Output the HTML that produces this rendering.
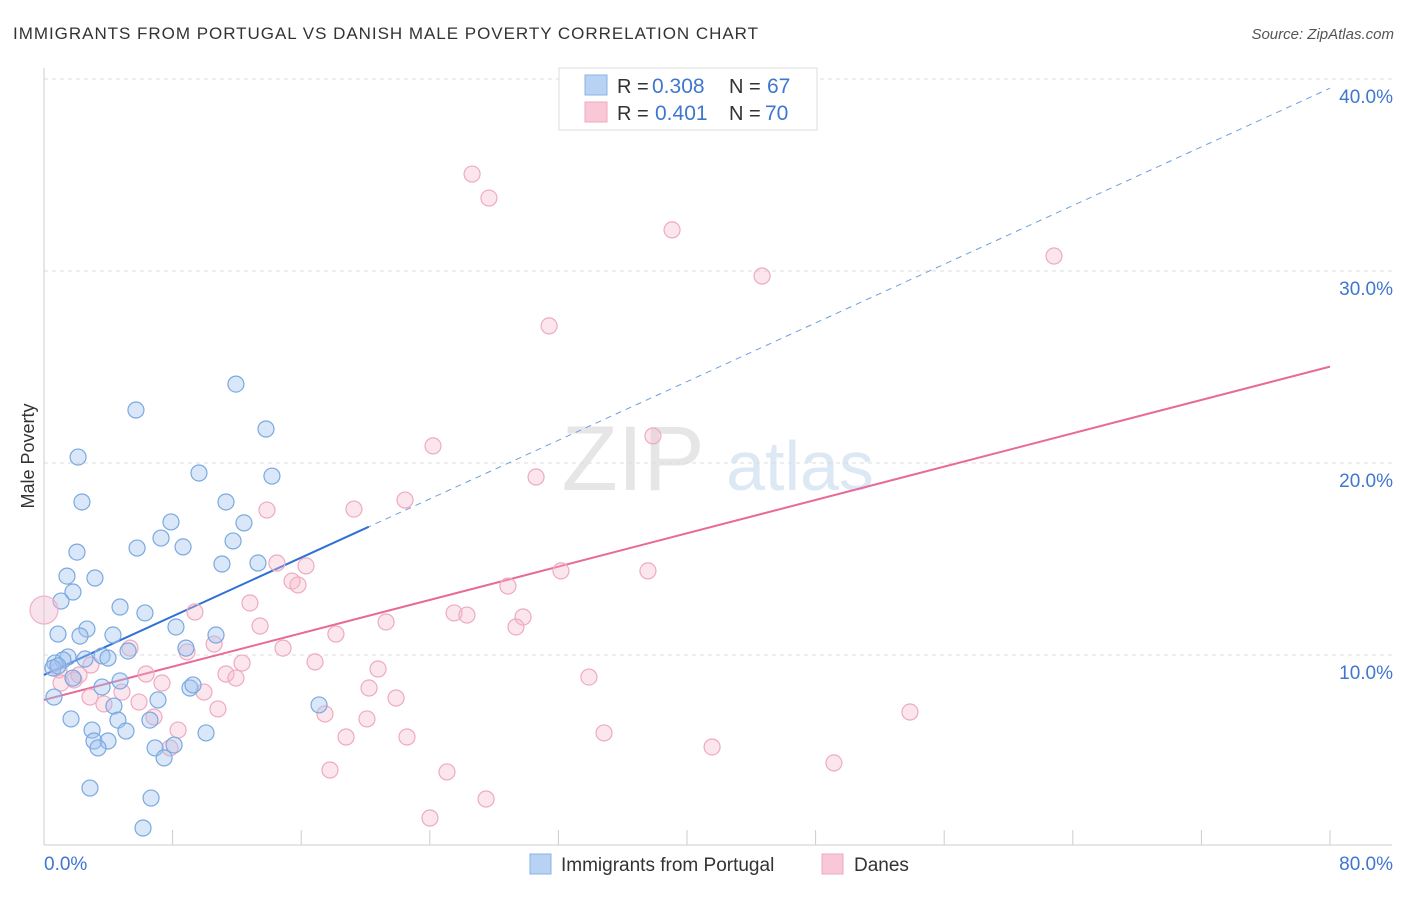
<!DOCTYPE html>
<html><head><meta charset="utf-8"><style>
body{margin:0;background:#fff;font-family:"Liberation Sans",sans-serif;}
svg text{font-family:"Liberation Sans",sans-serif;}
</style></head><body>
<svg id="chart" width="1406" height="892" xmlns="http://www.w3.org/2000/svg">
<text x="13" y="39" font-size="17" fill="#333" textLength="745" lengthAdjust="spacing">IMMIGRANTS FROM PORTUGAL VS DANISH MALE POVERTY CORRELATION CHART</text>
<text x="1394" y="39" font-size="15" fill="#555" font-style="italic" text-anchor="end">Source: ZipAtlas.com</text>
<text x="34" y="456" font-size="18" fill="#333" text-anchor="middle" transform="rotate(-90 34 456)">Male Poverty</text>
<g>
<text x="633" y="490" font-size="92" fill="#e6e6e6" text-anchor="middle" font-family="Liberation Serif">ZIP</text>
<text x="800" y="490" font-size="70" fill="#dde8f5" text-anchor="middle">atlas</text>
</g>
<g id="grid"></g><g id="axes"></g><g id="lines"></g><g id="pts"></g>
<g>
<rect x="559" y="68" width="258" height="62" fill="#fff" stroke="#ddd"/>
<rect x="585" y="75" width="22" height="20" fill="#b7d2f3" stroke="#8ab3e6"/>
<rect x="585" y="102" width="22" height="20" fill="#f9c8d6" stroke="#eeaabf"/>
<text x="617" y="93" font-size="20" fill="#333">R =</text>
<text x="652" y="93" font-size="21" fill="#3f76d0">0.308</text>
<text x="729" y="93" font-size="20" fill="#333">N =</text>
<text x="767" y="93" font-size="21" fill="#3f76d0">67</text>
<text x="617" y="120" font-size="20" fill="#333">R =</text>
<text x="655" y="120" font-size="21" fill="#3f76d0">0.401</text>
<text x="729" y="120" font-size="20" fill="#333">N =</text>
<text x="765" y="120" font-size="21" fill="#3f76d0">70</text>
</g>
<g>
<rect x="530" y="854" width="21" height="20" fill="#b7d2f3" stroke="#8ab3e6"/>
<text x="561" y="871" font-size="19" fill="#333">Immigrants from Portugal</text>
<rect x="822" y="854" width="21" height="20" fill="#f9c8d6" stroke="#eeaabf"/>
<text x="854" y="871" font-size="19" fill="#333">Danes</text>
</g>
</svg>
<script>
const blueX=[5.72,11.94,13.81,2.12,9.64,14.18,2.36,11.32,7.90,12.44,7.28,11.76,8.65,5.79,2.05,11.07,13.31,1.43,3.17,1.80,1.06,4.73,6.28,8.21,2.67,0.87,2.24,4.29,10.70,8.83,5.23,3.61,1.49,1.18,3.98,2.55,0.68,0.56,0.87,1.80,4.73,3.61,9.08,9.27,0.62,7.09,4.35,1.68,4.60,6.59,2.99,5.10,10.08,3.11,3.98,3.36,6.91,8.09,7.47,17.11,2.86,6.66,6.16];
const blueY=[22.76,24.11,21.77,20.31,19.48,19.32,17.97,17.97,16.93,16.88,16.09,15.94,15.63,15.57,15.36,14.74,14.79,14.11,14.01,13.28,12.81,12.50,12.19,11.46,11.35,11.09,10.99,11.04,11.04,10.36,10.21,9.95,9.90,9.74,9.84,9.79,9.58,9.32,9.43,8.80,8.65,8.33,8.28,8.44,7.81,7.66,7.34,6.67,6.61,6.61,6.09,6.04,5.94,5.52,5.52,5.16,5.16,5.31,4.64,7.40,3.07,2.55,0.99];
const pinkX=[26.63,27.68,39.07,62.83,44.67,31.42,24.20,37.88,30.61,22.46,19.28,13.87,9.39,12.81,14.49,16.30,15.43,15.80,28.86,32.16,37.57,25.51,26.31,29.80,29.36,21.28,13.44,18.16,10.58,14.87,8.90,12.32,16.86,20.78,5.35,6.35,2.92,0.93,2.18,7.34,11.32,11.94,33.90,20.22,4.85,9.95,21.90,2.86,3.73,5.91,10.82,17.48,53.87,6.84,20.09,8.34,18.79,22.58,34.84,41.56,7.84,17.79,25.07,49.14,27.50,24.01,1.06,1.87];
const pinkY=[35.05,33.80,32.14,30.78,29.74,27.14,20.89,21.41,19.27,18.07,17.60,17.55,12.24,12.71,14.79,14.64,13.85,13.65,13.59,14.38,14.38,12.19,12.08,11.98,11.46,11.72,11.51,11.09,10.57,10.36,10.16,9.58,9.64,9.27,10.36,9.01,9.48,9.22,8.96,8.54,9.01,8.80,8.85,8.28,8.07,8.07,7.76,7.81,7.45,7.55,7.19,6.93,7.03,6.77,6.67,6.09,5.73,5.73,5.94,5.21,5.16,4.01,3.91,4.38,2.50,1.51,8.54,8.70];
const bigPoint=[0,12.34];
const blueLine=[8.96,0.382];
const pinkLine=[7.66,0.217];
const yTicks=[10,20,30,40];
const yTickLabels=["10.0%","20.0%","30.0%","40.0%"];
const xTicks=[0,8,16,24,32,40,48,56,64,72,80];
const NS="http://www.w3.org/2000/svg";
const sx=v=>44+v*16.075, sy=v=>847-v*19.2;
function mk(tag,attrs,parent){const e=document.createElementNS(NS,tag);for(const k in attrs)e.setAttribute(k,attrs[k]);document.getElementById(parent).appendChild(e);return e;}
yTicks.forEach((t,i)=>{
 const g=mk('line',{x1:44,x2:1392,y1:sy(t),y2:sy(t),stroke:'#ddd','stroke-dasharray':'4,4'},'grid');
 
 
 const l=mk('text',{x:1393,y:sy(t)+24,'font-size':19,fill:'#3f76d0','text-anchor':'end'},'axes');l.textContent=yTickLabels[i];
 
 
});
mk('line',{x1:44,x2:44,y1:68,y2:845,stroke:'#ccc'},'axes');
mk('line',{x1:44,x2:1392,y1:845,y2:845,stroke:'#ccc'},'axes');
xTicks.forEach(t=>{const e=mk('line',{x1:sx(t),x2:sx(t),y1:830,y2:845,stroke:'#ccc'},'axes');
 
 });
let t0=mk('text',{x:44,y:870,'font-size':19,fill:'#3f76d0'},'axes');t0.textContent='0.0%';


let t1=mk('text',{x:1393,y:870,'font-size':19,fill:'#3f76d0','text-anchor':'end'},'axes');t1.textContent='80.0%';


const bl=v=>blueLine[0]+blueLine[1]*v, pl=v=>pinkLine[0]+pinkLine[1]*v;
let d=mk('line',{x1:sx(20),y1:sy(bl(20)),x2:sx(80),y2:sy(bl(80)),stroke:'#6f9ee0','stroke-width':1,'stroke-dasharray':'6,5'},'lines');


let b=mk('line',{x1:sx(0),y1:sy(bl(0)),x2:sx(20.2),y2:sy(bl(20.2)),stroke:'#2f6fd6','stroke-width':2},'lines');


let p=mk('line',{x1:sx(0),y1:sy(pl(0)),x2:sx(80),y2:sy(pl(80)),stroke:'#e8699a','stroke-width':2},'lines');


pinkX.forEach((x,i)=>{const c=mk('circle',{cx:sx(x),cy:sy(pinkY[i]),r:8,fill:'rgba(246,182,202,0.35)',stroke:'#eeaabf','stroke-width':1.2},'pts');
 
 });
blueX.forEach((x,i)=>{const c=mk('circle',{cx:sx(x),cy:sy(blueY[i]),r:8,fill:'rgba(160,196,240,0.4)',stroke:'#7aa9e0','stroke-width':1.2},'pts');
 
 });
let bp=mk('circle',{cx:sx(bigPoint[0]),cy:sy(bigPoint[1]),r:14,fill:'rgba(240,190,210,0.45)',stroke:'#eeb0c8','stroke-width':1.2},'pts');


</script>
</body></html>
